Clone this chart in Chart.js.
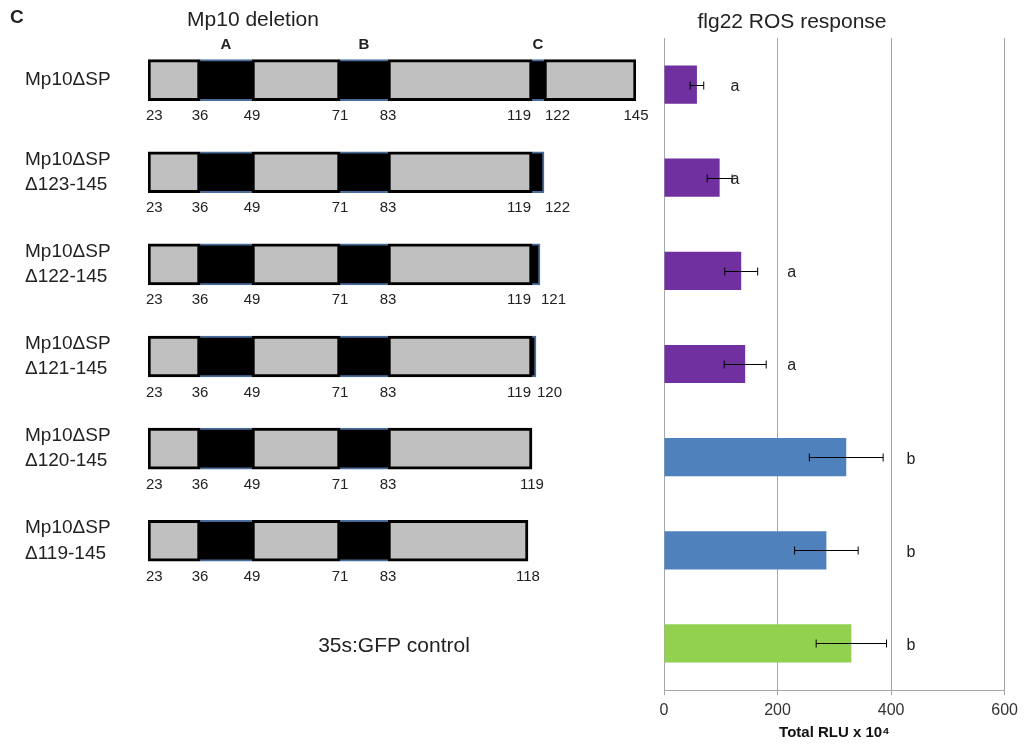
<!DOCTYPE html>
<html>
<head>
<meta charset="utf-8">
<script src="https://cdn.jsdelivr.net/npm/chart.js@4.4.0/dist/chart.umd.min.js"></script>
<style>
  html, body { margin: 0; padding: 0; background: #fff; }
  #wrap { position: relative; width: 1024px; height: 744px; overflow: hidden; }
  #ros { position: absolute; left: 640px; top: 0; }
  #diagram { position: absolute; left: 0; top: 0; }
</style>
</head>
<body>
<div id="wrap">
  <canvas id="ros" width="384" height="744"></canvas>
  <canvas id="diagram" width="660" height="744"></canvas>
</div>
<script>
// construct map (left panel)
const constructs = [
  ['Mp10ΔSP'],
  ['Mp10ΔSP', 'Δ123-145'],
  ['Mp10ΔSP', 'Δ122-145'],
  ['Mp10ΔSP', 'Δ121-145'],
  ['Mp10ΔSP', 'Δ120-145'],
  ['Mp10ΔSP', 'Δ119-145'],
  ''
];
const constructEnds = [145, 122, 121, 120, 119, 118];
const boundaries = [23, 36, 49, 71, 83, 119, 122, 145];
const motifNames = ['A', 'B', 'C'];
const controlLabel = '35s:GFP control';

// ROS response (right panel)
const rosLabels = ['Mp10ΔSP', 'Mp10ΔSP Δ123-145', 'Mp10ΔSP Δ122-145', 'Mp10ΔSP Δ121-145',
  'Mp10ΔSP Δ120-145', 'Mp10ΔSP Δ119-145', '35s:GFP control'];
const rosValues = [58, 98, 136, 143, 321, 286, 330];
const rosErrors = [12, 22, 29, 37, 65, 56, 62];
const groupLetters = ['a', 'a', 'a', 'a', 'b', 'b', 'b'];
const letterAt = [125, 125, 225, 225, 435, 435, 435];
const rosTicks = [0, 200, 400, 600];
const barColors = ['#7030a0', '#7030a0', '#7030a0', '#7030a0', '#4f81bd', '#4f81bd', '#92d050'];

const FONT = '"Liberation Sans", Arial, sans-serif';

// one dataset per segment position, odd ones are the black motifs
const segDatasets = boundaries.slice(0, -1).map((start, i) => {
  const motif = i % 2 === 1;
  return {
    data: constructEnds.map(end => start < end ? [start, Math.min(boundaries[i + 1], end)] : null),
    backgroundColor: motif ? '#000000' : '#c0c0c0',
    borderColor: motif ? '#4a6c9b' : '#000000',
    borderWidth: (ctx) => {
      if (!motif) return 3;
      const atEnd = ctx.raw && ctx.raw[1] === constructEnds[ctx.dataIndex];
      return { top: 2, bottom: 2, left: 0, right: atEnd ? 2 : 0 };
    },
    borderSkipped: false,
    grouped: false,
    barThickness: 41,
  };
});

const diagramText = {
  id: 'diagramText',
  afterDatasetsDraw(chart) {
    const ctx = chart.ctx;
    const xs = chart.scales.x;
    const ys = chart.scales.y;
    ctx.save();
    ctx.fillStyle = '#222';
    ctx.textBaseline = 'middle';

    // residue numbers under each box
    ctx.font = '15px ' + FONT;
    constructEnds.forEach((end, row) => {
      const nums = boundaries.filter(b => b < end).concat([end]);
      const yc = ys.getPixelForValue(row) + 36;
      const px = nums.map(n => xs.getPixelForValue(n));
      nums.forEach((n, k) => {
        let align = 'center', x = px[k];
        if (k === 0) { align = 'left'; x -= 2; }
        else if (k < nums.length - 1 && px[k + 1] - px[k] < 30) { align = 'right'; x -= 1; }
        else if (k > 0 && px[k] - px[k - 1] < 30) { align = 'left'; x += 1; }
        ctx.textAlign = align;
        ctx.fillText(String(n), x, yc);
      });
    });

    // motif letters above the full-length construct
    ctx.font = 'bold 15px ' + FONT;
    ctx.textAlign = 'center';
    motifNames.forEach((m, k) => {
      const mid = (boundaries[2 * k + 1] + boundaries[2 * k + 2]) / 2;
      ctx.fillText(m, xs.getPixelForValue(mid), ys.getPixelForValue(0) - 35);
    });

    // control row label
    ctx.font = '21px ' + FONT;
    ctx.fillText(controlLabel, xs.getPixelForValue((boundaries[0] + 145) / 2) + 2, ys.getPixelForValue(6) + 13);

    // panel titles
    ctx.fillText('Mp10 deletion', 253, 20);
    ctx.font = 'bold 19px ' + FONT;
    ctx.textAlign = 'left';
    ctx.fillText('C', 10, 18);
    ctx.restore();
  }
};

new Chart(document.getElementById('diagram'), {
  type: 'bar',
  data: { labels: constructs, datasets: segDatasets },
  options: {
    indexAxis: 'y',
    responsive: false,
    animation: false,
    layout: { padding: { left: 25, right: 24, top: 34, bottom: 65 } },
    plugins: { legend: { display: false }, tooltip: { enabled: false } },
    scales: {
      x: { type: 'linear', min: 23, max: 145, display: false },
      y: {
        grid: { display: false },
        border: { display: false },
        ticks: {
          autoSkip: false,
          crossAlign: 'far',
          color: '#222',
          font: { family: FONT, size: 19, lineHeight: 1.32 },
        },
        afterFit(axis) { axis.width = 123; },
      },
    },
  },
  plugins: [diagramText],
});

const rosExtras = {
  id: 'rosExtras',
  afterDatasetsDraw(chart) {
    const ctx = chart.ctx;
    const xs = chart.scales.x;
    const meta = chart.getDatasetMeta(0);
    ctx.save();
    ctx.strokeStyle = '#000';
    ctx.lineWidth = 1;
    meta.data.forEach((bar, i) => {
      const y = Math.round(bar.y) + 0.5;
      const x1 = xs.getPixelForValue(rosValues[i] - rosErrors[i]);
      const x2 = xs.getPixelForValue(rosValues[i] + rosErrors[i]);
      ctx.beginPath();
      ctx.moveTo(x1, y); ctx.lineTo(x2, y);
      ctx.moveTo(x1, y - 4); ctx.lineTo(x1, y + 4);
      ctx.moveTo(x2, y - 4); ctx.lineTo(x2, y + 4);
      ctx.stroke();
    });
    ctx.fillStyle = '#222';
    ctx.font = '16px ' + FONT;
    ctx.textAlign = 'center';
    ctx.textBaseline = 'middle';
    meta.data.forEach((bar, i) => {
      ctx.fillText(groupLetters[i], xs.getPixelForValue(letterAt[i]), bar.y + 2);
    });
    ctx.font = '21px ' + FONT;
    ctx.fillText('flg22 ROS response', 152, 22);
    ctx.restore();
  }
};

new Chart(document.getElementById('ros'), {
  type: 'bar',
  data: {
    labels: rosLabels,
    datasets: [{
      data: rosValues,
      backgroundColor: barColors,
      barPercentage: 0.41,
      categoryPercentage: 1,
    }],
  },
  options: {
    indexAxis: 'y',
    responsive: false,
    animation: false,
    layout: { padding: { left: 24, right: 17, top: 38, bottom: 0 } },
    plugins: { legend: { display: false }, tooltip: { enabled: false } },
    scales: {
      x: {
        min: 0,
        max: 600,
        afterBuildTicks(axis) { axis.ticks = rosTicks.map(v => ({ value: v })); },
        grid: { color: '#a6a6a6', tickLength: 5, tickColor: '#a6a6a6' },
        border: { color: '#a6a6a6' },
        ticks: { color: '#333', padding: 6, font: { family: FONT, size: 16 } },
        title: {
          display: true,
          text: 'Total RLU x 10⁴',
          color: '#111',
          padding: { top: 0, bottom: 2 },
          font: { family: FONT, size: 15, weight: 'bold' },
        },
        afterFit(axis) { axis.height = 54; },
      },
      y: {
        grid: { display: false },
        border: { display: true, color: '#a6a6a6' },
        ticks: { display: false },
        afterFit(axis) { axis.width = 0; },
      },
    },
  },
  plugins: [rosExtras],
});
</script>
</body>
</html>
